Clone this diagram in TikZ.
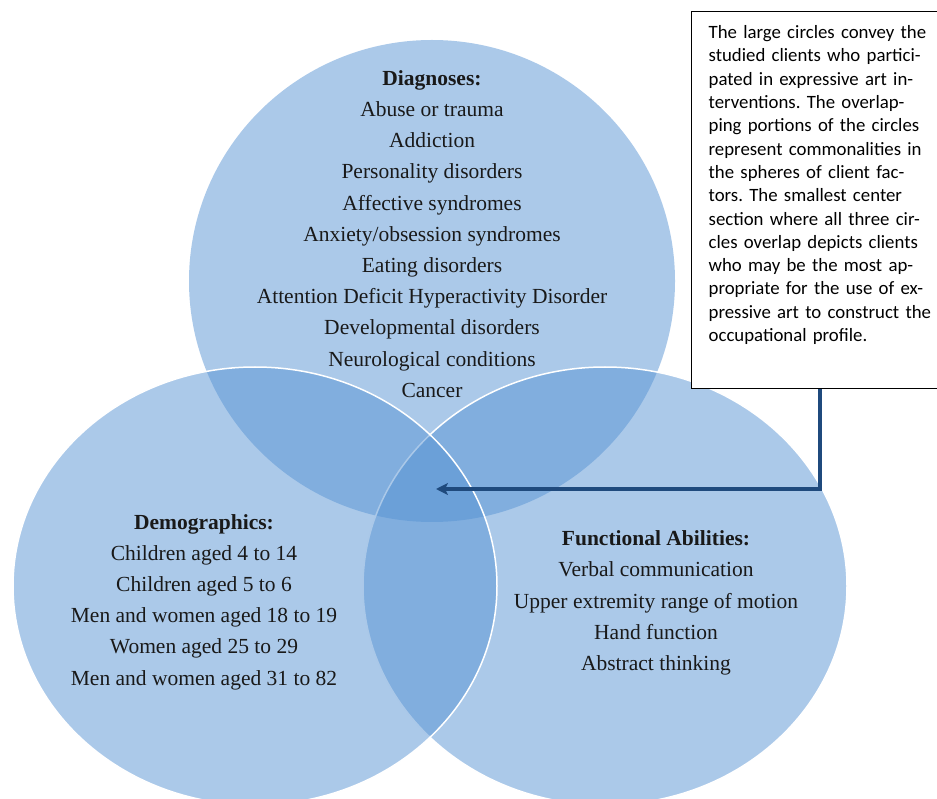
\documentclass[tikz,border=0pt]{standalone}
\usepackage{fontspec}
\setmainfont{Liberation Serif}
\newfontfamily\notefont{Carlito}
\usetikzlibrary{shapes.geometric,arrows.meta}

\definecolor{vennblue}{RGB}{87,147,211}
\definecolor{arrowblue}{RGB}{31,74,125}

\begin{document}
\frenchspacing
\begin{tikzpicture}[
    x=1pt, y=-1pt,
    sphere/.style={
        ellipse, inner sep=0pt, fill=vennblue, fill opacity=0.5, draw=white, line width=1.5pt
    },
    factors/.style={
        align=center, text=black!90, font=\fontsize{21.5}{31.2}\selectfont
    },
    note/.style={
        rectangle, draw=black, line width=1.3pt, fill=white, align=left,
        font=\notefont\fontsize{18.8}{23.3}\selectfont,
        inner xsep=17pt, inner ysep=14pt, text width=240pt, text depth=336pt
    },
    pointer/.style={
        -{Stealth[length=12pt,width=12pt,inset=3pt]}, line width=3.5pt, draw=arrowblue
    }
]
    \useasboundingbox (0,0) rectangle (937,799);

    \node (diagcircle) [sphere, draw=none, minimum width=486pt, minimum height=482pt] at (432,281) {};
    \node (funccircle) [sphere, minimum width=484pt, minimum height=438pt] at (605,586) {};
    \node (democircle) [sphere, minimum width=484pt, minimum height=438pt] at (255,586) {};

    \node (diagnoses) [factors] at (432,234) {\textbf{Diagnoses:}\\ Abuse or trauma\\ Addiction\\ Personality disorders\\
        Affective syndromes\\ Anxiety/obsession syndromes\\ Eating disorders\\
        Attention Deficit Hyperactivity Disorder\\ Developmental disorders\\ Neurological conditions\\ Cancer};
    \node (demographics) [factors] at (204,602) {\textbf{Demographics:}\\ Children aged 4 to 14\\ Children aged 5 to 6\\
        Men and women aged 18 to 19\\ Women aged 25 to 29\\ Men and women aged 31 to 82};
    \node (abilities) [factors] at (656,603) {\textbf{Functional Abilities:}\\ Verbal communication\\
        Upper extremity range of motion\\ Hand function\\ Abstract thinking};

    \coordinate (core) at (436,489);

    \node (legend) [note, anchor=north west] at (691,11) {The large circles convey the\\ studied clients who partici-\\
        pated in expressive art in-\\ terventions. The overlap-\\ ping portions of the circles\\
        represent commonalities in\\ the spheres of client fac-\\ tors. The smallest center\\
        section where all three cir-\\ cles overlap depicts clients\\ who may be the most ap-\\
        propriate for the use of ex-\\ pressive art to construct the\\ occupational profile.};

    \draw [pointer] ([xshift=129pt]legend.south west) |- (core);
\end{tikzpicture}
\end{document}
